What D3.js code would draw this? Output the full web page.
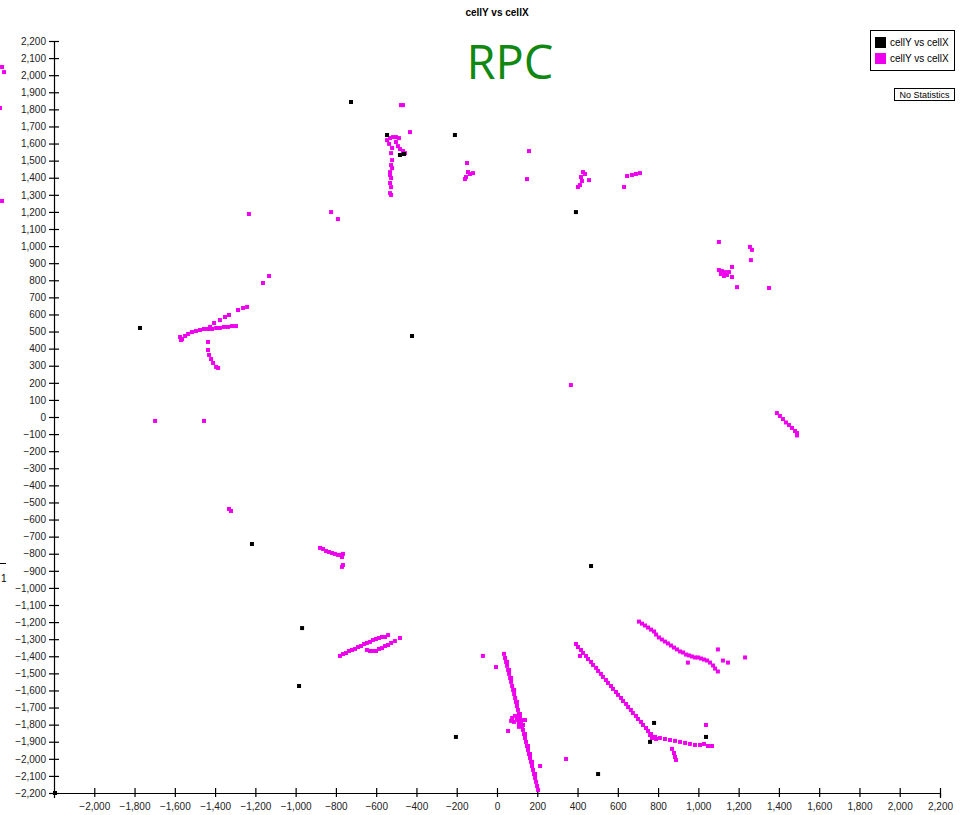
<!DOCTYPE html>
<html lang="en">
<head>
<meta charset="utf-8">
<title>cellY vs cellX</title>
<script src="https://d3js.org/d3.v7.min.js"></script>
<style>
  body { margin:0; background:#fff; }
  svg { display:block; }
  .axis text { font-family: "Liberation Sans", Arial, sans-serif; font-size:10px; fill:#222; }
  .axis path, .axis line { stroke:#000; stroke-width:1.2; }
</style>
</head>
<body>
<div id="chart"></div>
<script>
// tick values
var xTicks = d3.range(-2000, 2201, 200);
var yTicks = d3.range(-2200, 2201, 100);

// black series (cellX, cellY)
var blackPts = [
  [-725,1843],[-546,1650],[-209,1650],[-482,1533],[-462,1539],[392,1199],
  [-1773,521],[-422,474],[-1217,-743],[467,-872],[-968,-1235],[-983,-1574],
  [-204,-1872],[780,-1790],[760,-1901],[1038,-1872],[502,-2089],[-2195,-2200]
];

// magenta series (cellX, cellY)
var pinkPts = [
  // off the left edge
  [-2458,2048],[-2448,2018],[-2468,1808],[-2458,1264],
  // top, near x=-500
  [-477,1825],[-467,1825],[-432,1667],
  [-546,1620],[-531,1632],[-516,1638],[-502,1638],[-487,1632],[-502,1609],[-492,1585],
  [-482,1568],[-467,1556],[-457,1544],[-521,1574],[-526,1544],[-521,1503],[-526,1474],
  [-531,1433],[-526,1398],[-531,1369],[-526,1345],[-531,1310],[-526,1299],[-536,1598],
  [-521,1456],[-531,1416],
  // top middle
  [-149,1486],[-144,1433],[-134,1422],[-119,1427],[-154,1404],[-159,1392],
  [159,1556],[149,1392],
  [427,1433],[437,1422],[417,1404],[422,1381],[402,1346],[412,1357],[457,1386],
  [646,1410],[670,1416],[690,1422],[710,1427],[631,1346],
  [-1232,1188],[-824,1199],[-790,1158],
  // right upper cluster
  [1102,1024],[1256,995],[1266,978],[1261,918],
  [1102,860],[1117,854],[1132,848],[1112,837],[1127,825],[1142,831],[1152,848],
  [1167,878],[1167,819],[1192,760],[1351,755],
  // left cluster
  [-1132,825],[-1162,784],
  [-1241,644],[-1261,638],[-1286,626],[-1331,597],[-1351,585],[-1376,567],[-1405,550],[-1425,527],
  [-1574,468],[-1569,450],[-1564,456],[-1549,474],[-1534,486],[-1515,497],[-1495,503],
  [-1475,509],[-1455,515],[-1435,515],[-1415,515],[-1395,521],[-1376,521],[-1356,527],
  [-1336,527],[-1316,532],[-1296,532],
  [-1435,439],[-1435,392],[-1430,363],[-1420,339],[-1410,316],[-1395,293],[-1385,287],
  // middle left / right
  [367,187],[-1698,-23],[-1455,-23],
  [1390,23],[1405,6],[1420,-12],[1435,-32],[1450,-47],[1465,-64],[1480,-82],[1490,-94],[1490,-108],
  [-1331,-538],[-1321,-550],
  [-879,-766],[-864,-772],[-849,-784],[-834,-790],[-819,-796],[-805,-801],[-790,-807],
  [-775,-807],[-765,-801],[-770,-819],[-765,-866],[-770,-877],
  // lower left arc
  [-780,-1398],[-765,-1387],[-750,-1381],[-735,-1369],[-720,-1363],[-705,-1357],[-690,-1346],
  [-675,-1340],[-660,-1328],[-646,-1322],[-631,-1316],[-616,-1305],[-601,-1299],[-586,-1293],
  [-571,-1287],[-556,-1287],[-541,-1276],
  [-646,-1363],[-631,-1369],[-616,-1369],[-601,-1369],[-586,-1357],[-571,-1352],[-556,-1340],
  [-541,-1334],[-526,-1322],[-507,-1311],[-482,-1293],
  // central bottom strand
  [35,-1386],[40,-1410],[45,-1433],[50,-1456],[55,-1480],[60,-1503],[65,-1527],[70,-1550],
  [75,-1574],[80,-1597],[85,-1621],[90,-1644],[94,-1667],[99,-1691],[104,-1714],[109,-1738],
  [114,-1761],[119,-1784],[124,-1808],[129,-1831],[134,-1855],[139,-1878],[144,-1901],
  [149,-1925],[154,-1948],[159,-1972],[164,-1995],[169,-2018],[174,-2042],[179,-2065],
  [184,-2089],[189,-2112],[194,-2135],[199,-2159],[204,-2182],
  [50,-1433],[60,-1480],[70,-1527],[85,-1597],[99,-1667],[114,-1738],[139,-1855],
  [154,-1925],[164,-1972],[174,-2018],[189,-2089],
  [70,-1778],[75,-1761],[84,-1784],[89,-1749],[99,-1761],[104,-1773],[109,-1796],
  [114,-1784],[119,-1773],[129,-1802],[139,-1773],[109,-1813],
  [-70,-1398],[-5,-1463],[55,-1837],[343,-2001],[214,-2042],
  // lower right strand
  [392,-1328],[402,-1346],[417,-1363],[427,-1381],[442,-1398],[452,-1416],[467,-1433],
  [477,-1451],[492,-1468],[502,-1486],[516,-1503],[526,-1521],[541,-1539],[551,-1556],
  [566,-1574],[576,-1591],[591,-1609],[601,-1626],[616,-1644],[626,-1662],[641,-1679],
  [651,-1697],[665,-1714],[675,-1732],[690,-1749],[700,-1767],[715,-1784],[725,-1802],
  [740,-1820],[750,-1837],[765,-1855],[775,-1872],[412,-1398],
  [760,-1861],[770,-1878],[785,-1872],[790,-1884],[809,-1878],[834,-1884],[859,-1890],
  [884,-1895],[909,-1901],[934,-1907],[958,-1913],[983,-1919],[1008,-1919],[1028,-1913],
  [1048,-1925],[1068,-1925],[869,-1942],[879,-1966],[884,-1989],[889,-2007],[1038,-1802],
  // upper right arc
  [705,-1197],[720,-1209],[735,-1220],[750,-1232],[765,-1244],[780,-1255],[790,-1273],
  [804,-1290],[819,-1302],[834,-1314],[849,-1325],[864,-1337],[879,-1349],[894,-1360],
  [909,-1372],[924,-1378],[939,-1390],[953,-1395],[968,-1401],[983,-1407],[998,-1407],
  [1013,-1413],[1028,-1419],[1043,-1425],[1058,-1437],[1073,-1454],[1083,-1472],[1097,-1489],
  [1097,-1360],[948,-1437],[1122,-1425],[1147,-1437],[1232,-1407]
];

var W = 963, H = 815;
var xLo = 54, xHi = 940, yTop = 41, yBot = 793;

var svg = d3.select("#chart").append("svg")
  .attr("width", W)
  .attr("height", H);

var x = d3.scaleLinear().domain([-2200, 2200]).range([xLo, xHi]);
var y = d3.scaleLinear().domain([-2200, 2200]).range([yBot, yTop]);

var fmt = d3.format(",");

// axes
var yAxis = d3.axisLeft(y).tickValues(yTicks).tickFormat(fmt).tickSizeOuter(0).tickSize(5).tickPadding(3);
var gy = svg.append("g").attr("class", "axis")
  .attr("transform", "translate(" + xLo + ",0)")
  .call(yAxis);
gy.selectAll(".tick line").attr("x1", 5).attr("x2", -5);

var xAxis = d3.axisBottom(x).tickValues(xTicks).tickFormat(fmt).tickSizeOuter(0).tickSize(5).tickPadding(5);
var gx = svg.append("g").attr("class", "axis")
  .attr("transform", "translate(0," + yBot + ")")
  .call(xAxis);
gx.selectAll(".tick line").attr("y1", -5).attr("y2", 4);

// points
var sz = 4;
svg.append("g").selectAll("rect")
  .data(pinkPts)
  .enter()
  .append("rect")
  .attr("x", function(d) { return x(d[0]) - sz/2; })
  .attr("y", function(d) { return y(d[1]) - sz/2; })
  .attr("width", sz)
  .attr("height", sz)
  .attr("fill", "#ee00ee");

svg.append("g").selectAll("rect")
  .data(blackPts)
  .enter()
  .append("rect")
  .attr("x", function(d) { return x(d[0]) - sz/2; })
  .attr("y", function(d) { return y(d[1]) - sz/2; })
  .attr("width", sz)
  .attr("height", sz)
  .attr("fill", "#000");

// title
svg.append("text")
  .attr("x", 497).attr("y", 16)
  .attr("text-anchor", "middle")
  .style("font-family", "Liberation Sans, Arial, sans-serif")
  .style("font-size", "10px")
  .style("font-weight", "bold")
  .text("cellY vs cellX");

svg.append("text")
  .attr("x", 510).attr("y", 79)
  .attr("text-anchor", "middle")
  .style("font-family", "Open Sans, sans-serif")
  .style("font-size", "47px")
  .style("fill", "#118811")
  .text("RPC");

// legend
var leg = svg.append("g");
leg.append("rect").attr("x", 870.5).attr("y", 30.5).attr("width", 84).attr("height", 40)
  .attr("fill", "#fff").attr("stroke", "#000");
var legItems = [{c: "#000", t: "cellY vs cellX"}, {c: "#ee00ee", t: "cellY vs cellX"}];
legItems.forEach(function(d, i) {
  leg.append("rect").attr("x", 875).attr("y", 37 + i*16).attr("width", 11).attr("height", 11).attr("fill", d.c);
  leg.append("text").attr("x", 890).attr("y", 46 + i*16)
    .style("font-family", "Liberation Sans, Arial, sans-serif").style("font-size", "10px")
    .text(d.t);
});
svg.append("rect").attr("x", 894.5).attr("y", 88.5).attr("width", 60).attr("height", 12)
  .attr("fill", "#fff").attr("stroke", "#000");
svg.append("text").attr("x", 924.5).attr("y", 98)
  .attr("text-anchor", "middle")
  .style("font-family", "Liberation Sans, Arial, sans-serif").style("font-size", "9px")
  .text("No Statistics");

// stray mark at left edge
svg.append("line").attr("x1", 0).attr("x2", 6).attr("y1", 563.5).attr("y2", 563.5).attr("stroke", "#000");
svg.append("text").attr("x", 1).attr("y", 582)
  .style("font-family", "Liberation Sans, Arial, sans-serif").style("font-size", "10px")
  .text("1");
</script>
</body>
</html>
